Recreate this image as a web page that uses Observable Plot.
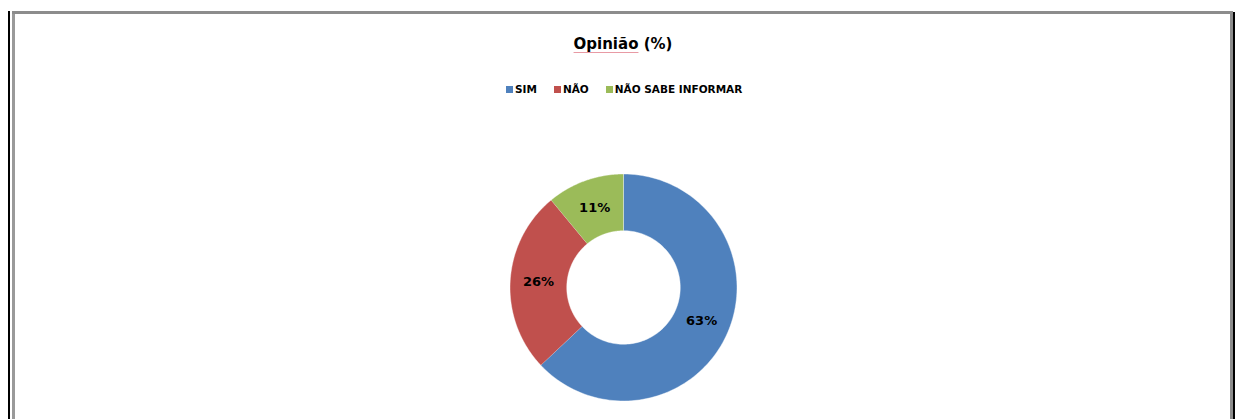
<!DOCTYPE html>
<html>
<head>
<meta charset="utf-8">
<script src="https://cdn.jsdelivr.net/npm/d3@7"></script>
<script src="https://cdn.jsdelivr.net/npm/@observablehq/plot@0.6"></script>
<style>
  html, body { margin: 0; padding: 0; background: #fff; width: 1236px; height: 419px; overflow: hidden; position: relative; font-family: "DejaVu Sans", sans-serif; }
  .ln { position: absolute; }
  #title { position: absolute; left: 0; width: 1246px; top: 35px; text-align: center; font-weight: bold; font-size: 15px; color: #000; }
  #title .sp { text-decoration-line: underline; text-decoration-style: solid; text-decoration-color: #e89aa4; text-decoration-thickness: 1px; text-underline-offset: 3px; }
  #legend { position: absolute; left: 506px; top: 83px; display: flex; align-items: center; font-weight: bold; font-size: 10.5px; color: #000; }
  #legend .item { display: flex; align-items: center; margin-right: 17px; }
  #legend .sw { width: 7px; height: 7px; margin-right: 2px; }
  #chart { position: absolute; left: 473px; top: 137px; }
</style>
</head>
<body>
<div class="ln" style="left:8px;top:11px;width:2px;height:420px;background:#000"></div>
<div class="ln" style="left:12px;top:11px;width:3px;height:420px;background:#9a9a9a"></div>
<div class="ln" style="left:12px;top:11px;width:1220px;height:3px;background:#8c8c8c"></div>
<div class="ln" style="left:1230px;top:11px;width:3px;height:420px;background:#8c8c8c"></div>
<div class="ln" style="left:1233px;top:12px;width:2px;height:420px;background:#000"></div>
<div id="title"><span class="sp">Opinião</span> (%)</div>
<div id="legend"></div>
<div id="chart"></div>
<script>
const categories = ["SIM", "NÃO", "NÃO SABE INFORMAR"];
const values = [63, 26, 11];
const labels = ["63%", "26%", "11%"];
const colors = ["#4F81BD", "#C0504D", "#9BBB59"];

const innerRatio = 0.5;

// legend
const leg = document.getElementById("legend");
categories.forEach((c, i) => {
  const it = document.createElement("div");
  it.className = "item";
  const sw = document.createElement("div");
  sw.className = "sw";
  sw.style.background = colors[i];
  const t = document.createElement("span");
  t.textContent = c;
  it.appendChild(sw); it.appendChild(t);
  leg.appendChild(it);
});

// slices from d3.pie (clockwise from top, no sort)
const arcs = d3.pie().sort(null).value(d => d)(values);
const pts = [];
const lbl = [];
arcs.forEach((a, i) => {
  const n = 120;
  for (let k = 0; k <= n; k++) {
    const t = a.startAngle + (a.endAngle - a.startAngle) * k / n;
    pts.push({cat: categories[i], x: Math.sin(t), y: Math.cos(t)});
  }
  for (let k = n; k >= 0; k--) {
    const t = a.startAngle + (a.endAngle - a.startAngle) * k / n;
    pts.push({cat: categories[i], x: innerRatio * Math.sin(t), y: innerRatio * Math.cos(t)});
  }
  const m = (a.startAngle + a.endAngle) / 2;
  const r = (1 + innerRatio) / 2;
  lbl.push({text: labels[i], x: r * Math.sin(m), y: r * Math.cos(m)});
});

const R = 113.5, C = 150;
const chart = Plot.plot({
  width: 300,
  height: 300,
  margin: 0,
  x: {domain: [-1, 1], range: [C - R, C + R], axis: null},
  y: {domain: [-1, 1], range: [C + R, C - R], axis: null},
  color: {domain: categories, range: colors},
  style: {background: "transparent", overflow: "visible"},
  marks: [
    Plot.line(pts, {x: "x", y: "y", z: "cat", fill: "cat", stroke: "#ffffff", strokeWidth: 0.6, strokeOpacity: 0.7, curve: "linear"}),
    Plot.text(lbl, {x: "x", y: "y", text: "text", fill: "#000", fontSize: 13, fontWeight: "bold", fontFamily: "DejaVu Sans"})
  ]
});
document.getElementById("chart").appendChild(chart);
</script>
</body>
</html>
